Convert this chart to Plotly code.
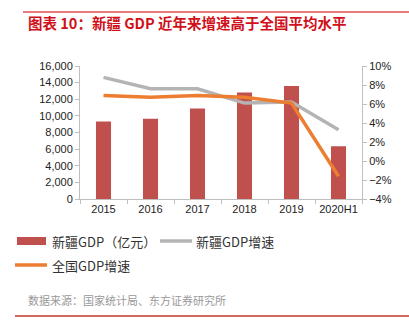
import plotly.graph_objects as go

categories = ["2015", "2016", "2017", "2018", "2019", "2020H1"]
gdp_xj = [9325, 9650, 10882, 12809, 13597, 6336]
growth_xj = [8.8, 7.6, 7.6, 6.1, 6.2, 3.3]
growth_cn = [6.9, 6.7, 6.9, 6.7, 6.1, -1.6]

names = ["新疆GDP（亿元）", "新疆GDP增速", "全国GDP增速"]
colors = ["#c0504d", "#b4b4b4", "#ed7d31"]

font_cn = "Liberation Sans, Arial, Noto Sans CJK SC"

# plot area in pixels
L, R, T, B = 80, 362, 66, 199
W, H = R - L, B - T


def px(x):
    return (x - L) / W


def py(y):
    return (B - y) / H


fig = go.Figure()
fig.add_trace(go.Bar(x=categories, y=gdp_xj, name=names[0],
                     marker=dict(color=colors[0], line=dict(width=0)), width=0.32))
fig.add_trace(go.Scatter(x=categories, y=growth_xj, name=names[1], yaxis="y2",
                         mode="lines", line=dict(color=colors[1], width=3.5)))
fig.add_trace(go.Scatter(x=categories, y=growth_cn, name=names[2], yaxis="y2",
                         mode="lines", line=dict(color=colors[2], width=3.5)))

axis_col = "#bfbfbf"
fig.update_layout(
    width=409, height=326,
    margin=dict(l=L, r=409 - R, t=T, b=326 - B),
    paper_bgcolor="white", plot_bgcolor="white",
    font=dict(family=font_cn, size=11, color="#222222"),
    showlegend=False,
    xaxis=dict(type="category", showline=True, linecolor=axis_col, linewidth=1,
               ticks="outside", tickson="boundaries", tickcolor=axis_col, ticklen=4,
               showgrid=False, tickangle=0, tickfont=dict(size=11), automargin=False),
    yaxis=dict(range=[0, 16000], dtick=2000, tickformat=",", showline=True,
               linecolor=axis_col, ticks="outside", tickcolor=axis_col, ticklen=4,
               showgrid=False, zeroline=False, tickfont=dict(size=11), automargin=False),
    yaxis2=dict(range=[-4, 10], dtick=2, ticksuffix="%", overlaying="y", side="right",
                showline=True, linecolor=axis_col, ticks="outside", tickcolor=axis_col,
                ticklen=4, showgrid=False, zeroline=False, tickfont=dict(size=11),
                automargin=False),
)

# manual legend
leg_font = dict(family="Noto Sans CJK SC", size=13, color="#333333")
fig.add_shape(type="rect", xref="paper", yref="paper", x0=px(17), x1=px(46),
              y0=py(245), y1=py(237), fillcolor=colors[0], line=dict(width=0))
fig.add_annotation(xref="paper", yref="paper", x=px(50), y=py(241), xanchor="left",
                   yanchor="middle", showarrow=False, text=names[0], font=leg_font)
fig.add_shape(type="line", xref="paper", yref="paper", x0=px(160), x1=px(192),
              y0=py(241), y1=py(241), line=dict(color=colors[1], width=3.5))
fig.add_annotation(xref="paper", yref="paper", x=px(194), y=py(241), xanchor="left",
                   yanchor="middle", showarrow=False, text=names[1], font=leg_font)
fig.add_shape(type="line", xref="paper", yref="paper", x0=px(15), x1=px(47),
              y0=py(265), y1=py(265), line=dict(color=colors[2], width=3.5))
fig.add_annotation(xref="paper", yref="paper", x=px(50), y=py(265), xanchor="left",
                   yanchor="middle", showarrow=False, text=names[2], font=leg_font)

# decorative rules
fig.add_shape(type="line", xref="paper", yref="paper", x0=px(23), x1=px(409),
              y0=py(12), y1=py(12), line=dict(color="#e05050", width=1.5))
fig.add_shape(type="line", xref="paper", yref="paper", x0=px(15), x1=px(409),
              y0=py(316), y1=py(316), line=dict(color="#c0392b", width=1.5))

fig.add_annotation(xref="paper", yref="paper", x=px(26), y=py(22), xanchor="left",
                   yanchor="middle", showarrow=False,
                   text="<b>图表 10：新疆 GDP 近年来增速高于全国平均水平</b>",
                   font=dict(family="Noto Sans CJK SC", size=14.5, color="#d0101a"))
fig.add_annotation(xref="paper", yref="paper", x=px(26), y=py(300), xanchor="left",
                   yanchor="middle", showarrow=False,
                   text="数据来源：国家统计局、东方证券研究所",
                   font=dict(family="Noto Sans CJK SC", size=11, color="#999999"))

fig.write_html("out.html", config={"displayModeBar": False})
